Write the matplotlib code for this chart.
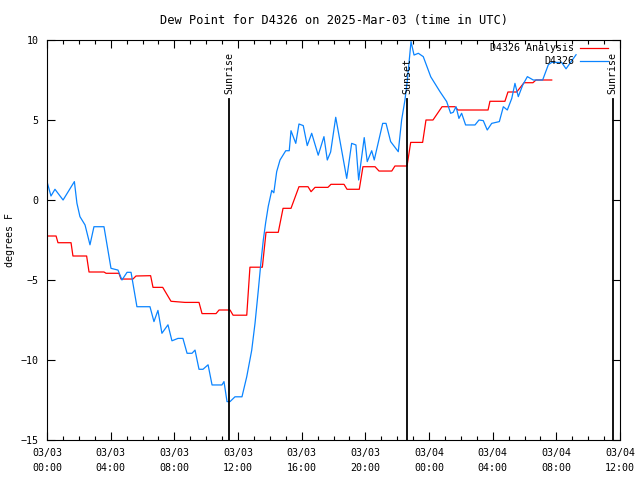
import numpy as np
import matplotlib
matplotlib.use("Agg")
import matplotlib.pyplot as plt

# hours since 2025-03-03 00:00 UTC
analysis_hours = [0.0, 0.57, 0.69, 1.51, 1.63, 2.49, 2.64, 3.58, 3.71, 4.52, 4.65, 5.40,
                  5.59, 6.51, 6.66, 7.27, 7.79, 8.67, 9.55, 9.74, 10.62, 10.81, 11.50, 11.69,
                  12.55, 12.75, 13.53, 13.76, 14.53, 14.83, 15.33, 15.83, 16.40, 16.59, 16.84,
                  17.65, 17.84, 18.66, 18.85, 19.62, 19.85, 20.61, 20.86, 21.66, 21.86, 22.62,
                  22.85, 23.60, 23.81, 24.25, 24.82, 25.63, 25.82, 27.71, 27.83, 28.77, 28.96,
                  29.51, 29.97, 30.53, 30.72, 31.71]
analysis_vals = [-2.25, -2.25, -2.67, -2.67, -3.5, -3.5, -4.5, -4.5, -4.58, -4.58, -4.94, -4.94,
                 -4.75, -4.73, -5.46, -5.46, -6.33, -6.4, -6.4, -7.1, -7.1, -6.875, -6.875, -7.2,
                 -7.2, -4.2, -4.2, -2.02, -2.02, -0.52, -0.52, 0.83, 0.83, 0.52, 0.79,
                 0.79, 0.98, 0.98, 0.67, 0.67, 2.08, 2.08, 1.81, 1.81, 2.125, 2.125,
                 3.6, 3.6, 5.0, 5.0, 5.83, 5.83, 5.625, 5.625, 6.17, 6.17, 6.75,
                 6.75, 7.33, 7.33, 7.5, 7.5]

obs_hours = [0.0, 0.25, 0.50, 1.01, 1.72, 1.88, 2.07, 2.39, 2.70, 2.95, 3.58, 4.02, 4.46, 4.71,
             5.03, 5.28, 5.65, 6.47, 6.72, 6.97, 7.22, 7.60, 7.85, 8.23, 8.54, 8.80, 9.11, 9.30,
             9.55, 9.80, 10.12, 10.37, 10.99, 11.12, 11.31, 11.50, 11.81, 12.25, 12.55, 12.86,
             13.07, 13.28, 13.44, 13.59, 13.74, 13.90, 14.12, 14.25, 14.43, 14.64, 15.0, 15.22,
             15.33, 15.63, 15.83, 16.10, 16.35, 16.63, 17.04, 17.40, 17.61, 17.82, 18.14, 18.83,
             19.14, 19.41, 19.58, 19.93, 20.12, 20.40, 20.56, 21.09, 21.30, 21.59, 22.07, 22.28,
             22.49, 22.64, 22.87, 23.06, 23.33, 23.64, 24.11, 24.69, 25.11, 25.36, 25.52, 25.70,
             25.88, 26.05, 26.30, 26.89, 27.14, 27.41, 27.66, 27.94, 28.42, 28.67, 28.92, 29.20,
             29.40, 29.61, 29.89, 30.18, 30.55, 31.14, 31.50, 31.71, 32.33, 32.61, 33.24]
obs_vals = [1.15, 0.25, 0.67, 0.0, 1.15, -0.2, -1.04, -1.56, -2.8, -1.67, -1.67, -4.27, -4.38, -5.0,
            -4.52, -4.52, -6.67, -6.67, -7.6, -6.9, -8.33, -7.8, -8.8, -8.65, -8.65, -9.58, -9.58, -9.38,
            -10.58, -10.58, -10.3, -11.56, -11.56, -11.35, -12.6, -12.6, -12.3, -12.3, -11.04, -9.4,
            -7.7, -5.6, -3.9, -2.5, -1.4, -0.4, 0.6, 0.45, 1.77, 2.5, 3.08, 3.08,
            4.33, 3.54, 4.75, 4.65, 3.4, 4.17, 2.8, 3.96, 2.5, 3.0, 5.17, 1.35,
            3.54, 3.44, 1.25, 3.9, 2.4, 3.08, 2.5, 4.79, 4.79, 3.65, 3.02, 5.0,
            6.25, 7.5, 9.9, 9.06, 9.17, 8.96, 7.7, 6.77, 6.15, 5.42, 5.48, 5.83,
            5.1, 5.42, 4.69, 4.69, 5.0, 4.96, 4.375, 4.79, 4.9, 5.83, 5.625, 6.35,
            7.29, 6.46, 7.19, 7.71, 7.5, 7.5, 8.46, 8.6, 8.6, 8.2, 9.08]

sun_events = [(11.43, "Sunrise"), (22.61, "Sunset"), (35.55, "Sunrise")]

tick_hours = np.arange(0, 37, 4)
tick_labels = ["03/03\n00:00", "03/03\n04:00", "03/03\n08:00", "03/03\n12:00", "03/03\n16:00",
               "03/03\n20:00", "03/04\n00:00", "03/04\n04:00", "03/04\n08:00", "03/04\n12:00"]

plt.rcParams['font.family'] = ['DejaVu Sans Mono']
plt.rcParams['font.size'] = 7.2

fig = plt.figure(figsize=(6.4, 4.8), dpi=100)
ax = fig.add_axes([47 / 640, 40 / 480, 573 / 640, 400 / 480])

ax.plot(analysis_hours, analysis_vals, color='#ff0000', lw=0.9, label='D4326 Analysis')
ax.plot(obs_hours, obs_vals, color='#0a84ff', lw=0.9, label='D4326')

# sunrise / sunset markers
for h, name in sun_events:
    ax.plot([h, h], [-15, 6.3], color='black', lw=1.3)
    ax.text(h, 6.65, name, rotation=90, ha='center', va='bottom')

ax.set_xlim(0, 36)
ax.set_ylim(-15, 10)
ax.set_xticks(tick_hours)
ax.set_xticklabels(tick_labels)
for lab in ax.get_xticklabels():
    lab.set_linespacing(1.6)
ax.set_xticks(np.arange(0, 37, 1), minor=True)
ax.set_yticks([-15, -10, -5, 0, 5, 10])
ax.tick_params(direction='in', top=True, right=True, length=6, width=0.8, pad=6)
ax.tick_params(which='minor', direction='in', top=True, length=3, width=0.8)

ax.set_title("Dew Point for D4326 on 2025-Mar-03 (time in UTC)", pad=11.5)
ax.set_ylabel("degrees F")
ax.yaxis.set_label_coords(-0.055, 0.5)

leg = ax.legend(loc='upper right', bbox_to_anchor=(0.979, 0.992), frameon=False,
                markerfirst=False, handlelength=2.8, handletextpad=0.6,
                labelspacing=0.3, borderpad=0, borderaxespad=0)

fig.savefig("out.png", dpi=100)
